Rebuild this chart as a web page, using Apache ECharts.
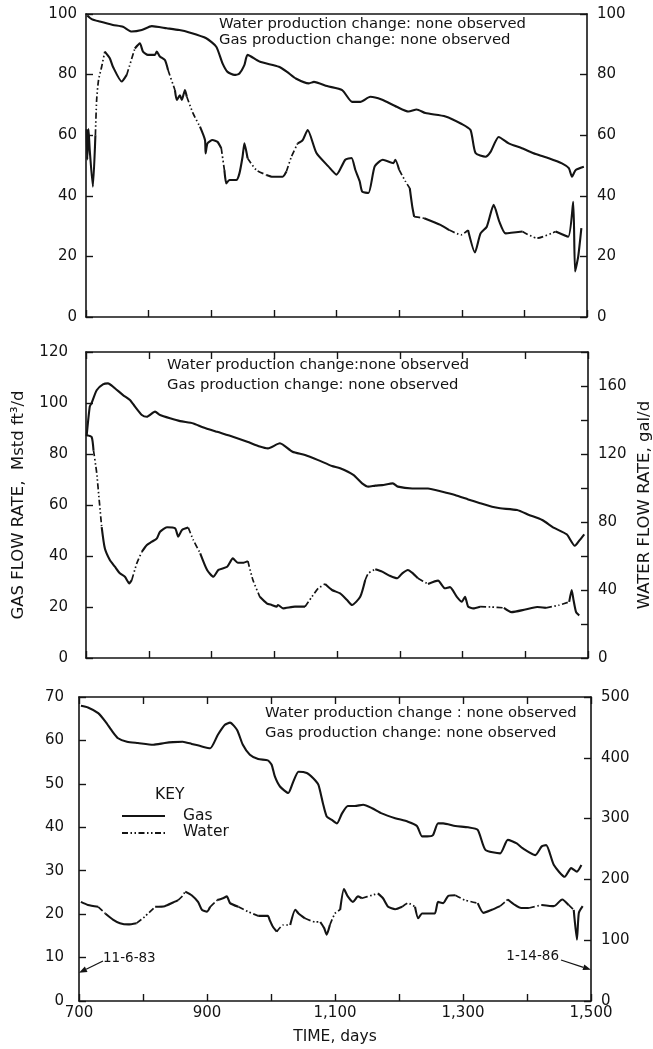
<!DOCTYPE html>
<html><head><meta charset="utf-8">
<script src="https://cdn.jsdelivr.net/npm/echarts@6/dist/echarts.min.js"></script>
<style>html,body{margin:0;padding:0;background:#fff}#c{width:653px;height:1049px}</style>
</head><body><div id="c"></div>
<script>
// ---------------- DATA ----------------
const xLabelValues = [700, 900, 1100, 1300, 1500];
const xLabelTexts  = ['700', '900', '1,100', '1,300', '1,500'];

// Panel 1 (gas left 0-100, water right 0-100)
const p1GasDays = [702,709,722,743,759,773,789,805,829,849,865,892,908,918,926,937,945,953,958,977,1008,1021,1035,1056,1064,1085,1109,1125,1138,1154,1172,1196,1215,1228,1242,1274,1300,1314,1322,1338,1346,1359,1375,1396,1418,1439,1460,1471,1476,1482,1495];
const p1GasVals = [99.5,98.3,97.5,96.4,95.8,94.2,94.7,96,95.3,94.7,93.9,92,89.2,83.7,80.9,79.9,80.4,83.2,86.5,84.3,82.6,80.9,78.7,77.1,77.6,76.2,74.9,71,71,72.7,71.8,69.4,67.8,68.5,67.3,66.2,63.7,61.7,54.1,52.9,54.5,59.4,57.3,55.7,53.8,52.4,50.7,49.1,46.3,48.5,49.6];
const p1WaterDays = [701,702,704,706,711,715,717,720,725,730,738,743,757,765,778,786,791,799,810,813,818,826,831,842,845,850,853,858,861,871,882,890,891,894,902,910,916,921,924,929,940,945,950,953,958,972,988,998,1014,1020,1028,1038,1046,1054,1068,1087,1100,1114,1124,1130,1137,1141,1151,1161,1174,1191,1194,1200,1210,1217,1221,1224,1240,1266,1280,1299,1310,1321,1330,1340,1351,1360,1370,1397,1420,1450,1470,1478,1481,1486,1491];
const p1WaterVals = [62,52,62,55,43,60,71.6,78.2,82.6,87.6,85.4,82.6,77.7,79.9,88.6,90.3,87.6,86.5,86.5,87.6,86,84.8,81.5,74.9,71.6,73.2,71.6,74.9,72.7,67.2,62.8,58.4,54,57.3,58.4,57.8,55.7,48.5,44.1,45.2,45.2,47.4,52.9,57.3,52.4,48.5,46.9,46.3,46.3,48,52.9,57.3,58.4,61.7,54.1,49.7,47,51.9,52.5,48.6,44.8,41.4,40.9,49.7,51.9,50.8,51.9,48.6,44.8,42.5,36.4,33.1,32.6,30.4,28.7,27.1,28.7,21.3,27.6,29.8,37,31.5,27.6,28.2,26,28.2,26.5,38,15,20,29.3];
const p1WaterDotted = [[715,730],[765,779],[831,843],[861,882],[916,922],[958,990],[1020,1040],[1200,1216],[1224,1240],[1285,1312],[1397,1445]];

// Panel 2 (gas left 0-120, water right 0-180)
const p2GasDays = [701,706,709,717,727,735,746,759,770,778,789,797,810,818,834,850,871,886,909,934,957,977,990,1009,1017,1029,1049,1070,1092,1105,1126,1140,1150,1161,1172,1189,1197,1220,1245,1268,1288,1309,1328,1347,1360,1387,1406,1427,1446,1466,1479,1486,1494];
const p2GasVals = [87,98.6,100,105,107.3,107.7,105.8,103.1,101.2,98.6,95.3,94.6,96.6,95.3,94,92.9,92,90.5,88.7,86.8,84.8,82.9,82.2,84.2,83.1,80.9,79.6,77.6,75.3,74.4,71.8,68.5,67.2,67.6,67.8,68.5,67.2,66.5,66.5,65.2,63.9,62.2,60.7,59.3,58.7,58,56.1,54.1,51,48.5,44,46,48.5];
const p2WaterDays = [701,709,712,717,721,725,730,738,746,754,762,769,773,781,789,797,805,813,818,829,842,847,853,863,871,882,893,903,911,925,934,942,950,958,966,977,988,996,1004,1006,1014,1033,1049,1060,1070,1081,1092,1105,1116,1124,1137,1145,1150,1161,1172,1185,1196,1204,1213,1221,1229,1245,1261,1272,1280,1291,1299,1304,1309,1317,1328,1345,1366,1378,1400,1419,1433,1453,1470,1474,1477,1481,1486];
const p2WaterVals = [131,130,122,109,93,77,64.5,57.6,53.7,49.8,47.8,43.9,45.9,55.7,62.5,66.5,68.4,70.4,74.3,76.9,76.3,71.4,75.3,76.7,69.4,61.6,51.8,47.8,51.8,53.7,58.6,56,56,57,45.9,36,32.2,31.2,30.2,31.2,29.2,30.2,30.2,36,41,43.5,40,38,34.1,31.2,36,45.9,49.8,52.2,50.8,48.2,46.9,49.8,51.8,49.8,46.9,43.5,45.5,41,41.7,36,33.1,36,30.2,29.2,30.2,30,29.5,27,28.5,30,29.5,31,33,40,34,27,25];
const p2WaterDotted = [[713,726],[773,790],[866,882],[960,976],[1050,1078],[1143,1156],[1228,1250],[1330,1368],[1440,1470]];

// Panel 3 (gas left 0-70, water right 0-500)
const p3GasDays = [703,714,730,741,752,761,775,792,816,834,847,862,876,892,905,917,928,936,947,956,967,980,995,1001,1006,1014,1027,1034,1043,1056,1066,1074,1081,1087,1095,1103,1111,1120,1131,1144,1158,1173,1194,1214,1228,1236,1244,1253,1261,1269,1288,1308,1323,1335,1358,1370,1384,1393,1413,1423,1430,1442,1459,1469,1478,1485];
const p3GasVals = [68,67.6,66.3,64.4,62.1,60.5,59.7,59.4,59,59.4,59.6,59.7,59.2,58.6,58.2,61.3,63.6,64.1,62.4,59,56.7,55.7,55.4,54.4,51.7,49.4,47.9,50.2,52.8,52.5,51.3,49.8,45.6,42.5,41.7,40.9,43.2,44.9,44.9,45.2,44.4,43.2,42.1,41.3,40.3,37.9,37.9,38.2,40.9,40.9,40.3,40,39.4,34.8,34,37.1,36.3,35.2,33.6,35.6,35.9,31.3,28.6,30.6,29.8,31.3];
const p3WaterDays = [703,714,730,741,753,764,777,790,803,819,834,847,855,861,866,876,886,892,900,905,916,925,931,936,949,964,980,995,998,1003,1009,1019,1030,1038,1043,1053,1069,1077,1083,1087,1092,1100,1108,1114,1120,1128,1136,1142,1158,1167,1175,1183,1194,1205,1214,1225,1230,1236,1245,1256,1261,1269,1277,1288,1303,1323,1332,1345,1358,1370,1381,1391,1403,1423,1442,1455,1465,1473,1478,1481,1487];
const p3WaterVals = [163,158,155,144,134,128,126,128,139,155,156,162,166,172,180,174,163,150,147,155,166,169,172,161,155,147,140,140,133,122,114,125,125,150,144,136,130,130,120,109,125,144,150,184,172,163,172,169,174,177,169,155,151,155,161,155,136,144,144,144,163,161,173,174,166,161,145,150,156,167,158,153,153,158,156,167,158,150,101,145,156];
const p3WaterDotted = [[730,745],[790,812],[857,866],[907,920],[951,980],[1010,1030],[1053,1077],[1092,1106],[1144,1167],[1208,1226],[1290,1323],[1358,1370],[1403,1423],[1465,1474]];

// ---------------- BUILD ----------------
const INK = '#141414';
const FONT = 'DejaVu Sans';
const DOT = [6, 2.5, 1.5, 2.5, 1.5, 2.5];

function pairs(days, vals) { return days.map((d, i) => [d, vals[i]]); }

function splitDotted(days, vals, gaps) {
  const pts = pairs(days, vals);
  const solid = [], dotted = [];
  for (let i = 0; i < pts.length - 1; i++) {
    const a = pts[i], b = pts[i + 1];
    const mid = (a[0] + b[0]) / 2;
    const inGap = gaps.some(g => mid >= g[0] && mid <= g[1]);
    const tgt = inGap ? dotted : solid;
    if (tgt.length && tgt[tgt.length - 1] === a) {
      tgt.push(b);
    } else {
      if (tgt.length) tgt.push([a[0], '-']);
      tgt.push(a, b);
    }
  }
  return { solid, dotted };
}

const grids = [
  { left: 86, top: 14, width: 501, height: 303 },
  { left: 86, top: 352, width: 502, height: 306 },
  { left: 79, top: 697, width: 512, height: 304 }
];

const axisLine = { show: true, onZero: false, lineStyle: { color: INK, width: 1.6 } };
const tick = { show: true, inside: true, length: 7, lineStyle: { color: INK, width: 1.4 } };
const lab = { color: INK, fontFamily: FONT, fontSize: 15 };

const xAxis = [], yAxis = [];
grids.forEach((g, gi) => {
  xAxis.push({
    type: 'value', gridIndex: gi, position: 'bottom', min: 700, max: 1500, interval: 100,
    axisLine, axisTick: tick, splitLine: { show: false },
    axisLabel: Object.assign({}, lab, {
      show: gi === 2, margin: 5, showMinLabel: true, showMaxLabel: true,
      formatter: v => { const k = xLabelValues.indexOf(v); return k >= 0 ? xLabelTexts[k] : ''; }
    })
  });
  xAxis.push({
    type: 'value', gridIndex: gi, position: 'top', min: 700, max: 1500, interval: 100,
    axisLine, axisTick: Object.assign({}, tick, { show: gi > 0 }), splitLine: { show: false },
    axisLabel: { show: false }
  });
});

const yCfg = [
  { left: [0, 100, 20, 9, v => String(v)], right: [0, 100, 20, v => String(v)] },
  { left: [0, 120, 20, 18, v => String(v)], right: [0, 180, 20, v => (v % 40 === 0 && v <= 160) ? String(v) : ''] },
  { left: [0, 70, 10, 15, v => String(v)], right: [0, 500, 100, v => String(v)] }
];
yCfg.forEach((c, gi) => {
  yAxis.push({
    type: 'value', gridIndex: gi, position: 'left', min: c.left[0], max: c.left[1], interval: c.left[2],
    axisLine, axisTick: tick, splitLine: { show: false },
    axisLabel: Object.assign({}, lab, { margin: c.left[3], formatter: c.left[4], showMinLabel: true, showMaxLabel: true })
  });
  yAxis.push({
    type: 'value', gridIndex: gi, position: 'right', min: c.right[0], max: c.right[1], interval: c.right[2],
    axisLine, axisTick: tick, splitLine: { show: false }, alignTicks: false,
    axisLabel: Object.assign({}, lab, { margin: 10, formatter: c.right[3], showMinLabel: true, showMaxLabel: true })
  });
});

const series = [];
const panels = [
  [p1GasDays, p1GasVals, p1WaterDays, p1WaterVals, p1WaterDotted],
  [p2GasDays, p2GasVals, p2WaterDays, p2WaterVals, p2WaterDotted],
  [p3GasDays, p3GasVals, p3WaterDays, p3WaterVals, p3WaterDotted]
];
const base = { type: 'line', showSymbol: false, symbol: 'none', smooth: 0.2, silent: true, connectNulls: false };
panels.forEach((p, gi) => {
  series.push(Object.assign({}, base, {
    name: 'Gas', xAxisIndex: gi * 2, yAxisIndex: gi * 2,
    data: pairs(p[0], p[1]), lineStyle: { color: INK, width: 2.1 }
  }));
  const w = splitDotted(p[2], p[3], p[4]);
  series.push(Object.assign({}, base, {
    name: 'Water', xAxisIndex: gi * 2, yAxisIndex: gi * 2 + 1,
    data: w.solid, lineStyle: { color: INK, width: 2.1 }
  }));
  series.push(Object.assign({}, base, {
    name: 'Water gap', xAxisIndex: gi * 2, yAxisIndex: gi * 2 + 1,
    data: w.dotted, lineStyle: { color: INK, width: 1.7, type: DOT }
  }));
});

function txt(x, y, text, size, align, rot) {
  const el = {
    type: 'text', x, y,
    style: { text, font: size + 'px "' + FONT + '"', fill: INK, align: align || 'left', verticalAlign: 'middle' }
  };
  if (rot) el.rotation = rot;
  return el;
}

const chart = echarts.init(document.getElementById('c'), null, { renderer: 'canvas' });
chart.setOption({
  animation: false,
  backgroundColor: '#fff',
  grid: grids.map(g => Object.assign({ containLabel: false, outerBoundsMode: 'none' }, g)),
  xAxis, yAxis, series
});

function arrow(x1, y1, x2, y2) {
  const a = Math.atan2(y2 - y1, x2 - x1), L = 8, W = 3;
  const bx = x2 - L * Math.cos(a), by = y2 - L * Math.sin(a);
  const px = -Math.sin(a) * W, py = Math.cos(a) * W;
  return [
    { type: 'line', shape: { x1, y1, x2: bx, y2: by }, style: { stroke: INK, lineWidth: 1.3 } },
    { type: 'polygon', shape: { points: [[x2, y2], [bx + px, by + py], [bx - px, by - py]] }, style: { fill: INK } }
  ];
}

const tipStart = chart.convertToPixel({ xAxisIndex: 4, yAxisIndex: 4 }, [700, 6.5]);
const tipEnd = chart.convertToPixel({ xAxisIndex: 4, yAxisIndex: 4 }, [1500, 7.2]);

const TS = 14.8;
const graphic = [
  txt(219, 24, 'Water production change: none observed', TS),
  txt(219, 40, 'Gas production change: none observed', TS),
  txt(167, 365, 'Water production change:none observed', TS),
  txt(167, 385, 'Gas production change: none observed', TS),
  txt(265, 713, 'Water production change : none observed', TS),
  txt(265, 733, 'Gas production change: none observed', TS),
  txt(19, 505, 'GAS FLOW RATE,  Mstd ft\u00B3/d', 16.5, 'center', Math.PI / 2),
  txt(645, 505, 'WATER FLOW RATE, gal/d', 16.5, 'center', Math.PI / 2),
  txt(335, 1037, 'TIME, days', 15.5, 'center'),
  txt(155, 795, 'KEY', 15.5),
  { type: 'line', shape: { x1: 122, y1: 816, x2: 165, y2: 816 }, style: { stroke: INK, lineWidth: 2 } },
  txt(183, 816, 'Gas', 15.5),
  { type: 'line', shape: { x1: 122, y1: 833, x2: 165, y2: 833 }, style: { stroke: INK, lineWidth: 2, lineDash: DOT } },
  txt(183, 832, 'Water', 15.5),
  txt(103, 958, '11-6-83', 13.5),
  txt(559, 956, '1-14-86', 13.5, 'right')
].concat(arrow(103, 961, tipStart[0], tipStart[1]), arrow(561, 960, tipEnd[0], tipEnd[1]));

chart.setOption({ graphic });
</script></body></html>
